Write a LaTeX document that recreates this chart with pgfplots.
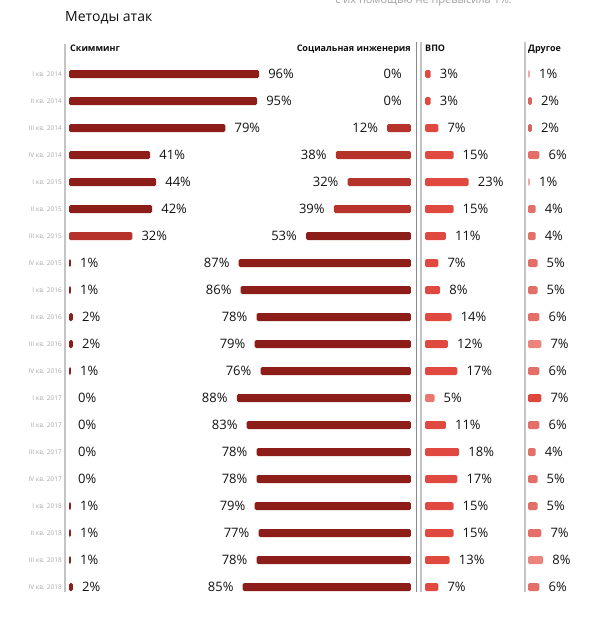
\documentclass[border=0pt]{standalone}
\usepackage{fontspec}
\setmainfont{Open Sans}
\usepackage{pgfplots}
\pgfplotsset{compat=1.18}
\usepackage{pgfplotstable}

\definecolor{dark}{HTML}{8C1D18}
\definecolor{mid}{HTML}{B5332B}
\definecolor{vpo}{HTML}{E0493F}
\definecolor{vpolight}{HTML}{E8776F}
\definecolor{oth}{HTML}{E36F68}
\definecolor{othlight}{HTML}{F0A8A4}
\definecolor{othrose}{HTML}{D66560}
\definecolor{othred}{HTML}{DE473D}
\definecolor{othpale}{HTML}{EA847D}
\definecolor{txt}{HTML}{111111}
\definecolor{rowlbl}{HTML}{A8A8A8}
\definecolor{sep}{HTML}{C4C4C4}
\definecolor{sepdark}{HTML}{8A8A8A}

% S = скимминг, SE = соц. инженерия, V = ВПО, O = другое; c* = colour group
\pgfplotstableread{
row S  SE V  O cS cSE cV cO
0   96 0  3  1 1  0   1  2
1   95 0  3  2 1  0   1  3
2   79 12 7  2 1  2   1  3
3   41 38 15 6 1  2   1  1
4   44 32 23 1 1  2   1  2
5   42 39 15 4 1  2   1  1
6   32 53 11 4 2  1   1  1
7   1  87 7  5 1  1   1  1
8   1  86 8  5 1  1   1  1
9   2  78 14 6 1  1   1  1
10  2  79 12 7 1  1   1  5
11  1  76 17 6 1  1   1  1
12  0  88 5  7 0  1   2  4
13  0  83 11 6 0  1   1  1
14  0  78 18 4 0  1   1  1
15  0  78 17 5 0  1   1  1
16  1  79 15 5 1  1   1  1
17  1  77 15 7 1  1   1  1
18  1  78 13 8 1  1   1  5
19  2  85 7  6 1  1   1  1
}\data

\tikzset{valfont/.style={font=\fontsize{13}{15}\selectfont, text=txt, inner sep=0pt},
  head/.style={font=\bfseries\fontsize{9}{10}\selectfont, text=txt, inner sep=0pt}}
\pgfplotsset{
  col/.style={scale only axis, height=540pt, ymin=-0.5, ymax=19.5,
    y dir=reverse, xmin=0, hide x axis, y axis line style={draw=none},
    ytick=\empty, clip=false},
}
\newcommand\bars[3]{%
  \addplot[xbar, bar shift=0pt, bar width=8pt, draw=none, fill=#3, rounded corners=1.5pt,
    x filter/.expression={\thisrow{c#1}==#2 ? x : nan}]
    table[x=#1, y=row] {\data};}

\begin{document}
\begin{tikzpicture}[x=1pt, y=1pt]
\path[use as bounding box, clip] (0,0) rectangle (600,622);

\node[anchor=base east, inner sep=0pt, text=gray!75, font=\fontsize{11}{13}\selectfont] at (512,618) {с их помощью не превысила 1\%.};
\node[anchor=base west, inner sep=0pt, text=txt, font=\fontsize{14}{16}\selectfont] at (65,600) {Методы атак};

\begin{scope}
\clip (0,30) rectangle (600,622);
\node[head, anchor=base west] at (70,570) {Скимминг};
\node[head, anchor=base east] at (411,570) {Социальная инженерия};
\node[head, anchor=base west] at (425,570) {ВПО};
\node[head, anchor=base west] at (528,570) {Другое};

\draw[sep, line width=1.8pt] (65,578) -- (65,20);
\draw[sepdark, line width=1pt] (416,580) -- (416,20);
\draw[sep, line width=1.3pt] (421,580) -- (421,20);
\draw[sep, line width=1.3pt] (525,580) -- (525,20);

% Скимминг
\begin{axis}[col, width=198pt, xmax=100, at={(69pt,561.5pt)}, anchor=north west,
  ytick={0,...,19}, major tick length=0pt,
  yticklabels={I кв. 2014,II кв. 2014,III кв. 2014,IV кв. 2014,I кв. 2015,II кв. 2015,III кв. 2015,IV кв. 2015,I кв. 2016,II кв. 2016,III кв. 2016,IV кв. 2016,I кв. 2017,II кв. 2017,III кв. 2017,IV кв. 2017,I кв. 2018,II кв. 2018,III кв. 2018,IV кв. 2018},
  yticklabel style={font=\fontsize{6.5}{7}\selectfont, text=rowlbl, inner sep=0pt, anchor=east, xshift=-7pt}]
\bars{S}{1}{dark}
\bars{S}{2}{mid}
\addplot[xbar, bar shift=0pt, draw=none, fill=none, point meta=explicit symbolic,
  nodes near coords={\pgfplotspointmeta\%}, nodes near coords style={valfont, anchor=west, xshift=9pt}]
  table[x=S, y=row, meta=S] {\data};
\end{axis}

% Социальная инженерия
\begin{axis}[col, width=198pt, xmax=100, x dir=reverse, at={(411pt,561.5pt)}, anchor=north east]
\bars{SE}{1}{dark}
\bars{SE}{2}{mid}
\addplot[xbar, bar shift=0pt, draw=none, fill=none, point meta=explicit symbolic,
  nodes near coords={\pgfplotspointmeta\%}, nodes near coords style={valfont, anchor=east, xshift=-9pt}]
  table[x=SE, y=row, meta=SE] {\data};
\end{axis}

% ВПО
\begin{axis}[col, width=95pt, xmax=50, at={(425pt,561.5pt)}, anchor=north west]
\bars{V}{1}{vpo}
\bars{V}{2}{vpolight}
\addplot[xbar, bar shift=0pt, draw=none, fill=none, point meta=explicit symbolic,
  nodes near coords={\pgfplotspointmeta\%}, nodes near coords style={valfont, anchor=west, xshift=9pt}]
  table[x=V, y=row, meta=V] {\data};
\end{axis}

% Другое
\begin{axis}[col, width=95pt, xmax=50, at={(528pt,561.5pt)}, anchor=north west]
\bars{O}{1}{oth}
\bars{O}{2}{othlight}
\bars{O}{3}{othrose}
\bars{O}{4}{othred}
\bars{O}{5}{othpale}
\addplot[xbar, bar shift=0pt, draw=none, fill=none, point meta=explicit symbolic,
  nodes near coords={\pgfplotspointmeta\%}, nodes near coords style={valfont, anchor=west, xshift=9pt}]
  table[x=O, y=row, meta=O] {\data};
\end{axis}
\end{scope}
\end{tikzpicture}
\end{document}
